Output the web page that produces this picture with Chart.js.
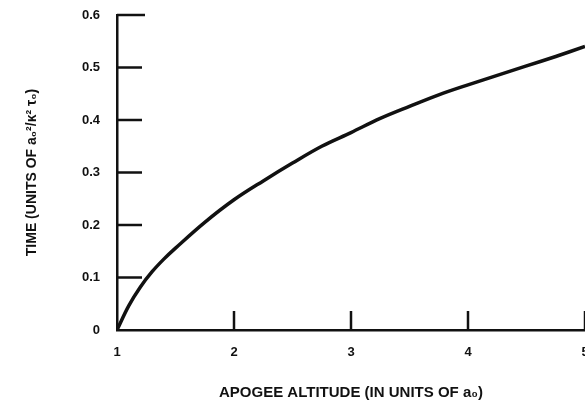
<!DOCTYPE html>
<html>
<head>
<meta charset="utf-8">
<script src="https://cdn.jsdelivr.net/npm/chart.js@4.4.0/dist/chart.umd.min.js"></script>
<style>
html,body{margin:0;padding:0;background:#fff;}
#wrap{width:585px;height:413px;position:relative;}
</style>
</head>
<body>
<div id="wrap"><canvas id="c" width="585" height="413"></canvas></div>
<script>
// Apogee altitude (units of a0)
const apogeeAltitude = [1.0, 1.1, 1.2, 1.3, 1.4, 1.5, 1.75, 2.0, 2.25, 2.5, 2.75, 3.0, 3.25, 3.5, 3.75, 4.0, 4.25, 4.5, 4.75, 5.0];
// Time (units of a0^2/k^2 tau0)
const timeValues = [0, 0.046, 0.082, 0.111, 0.135, 0.156, 0.205, 0.248, 0.284, 0.318, 0.350, 0.376, 0.403, 0.426, 0.448, 0.467, 0.485, 0.503, 0.521, 0.540];
const xTickValues = [1, 2, 3, 4, 5];
const yTickValues = [0, 0.1, 0.2, 0.3, 0.4, 0.5, 0.6];

const points = apogeeAltitude.map((x, i) => ({x: x, y: timeValues[i]}));

const ink = '#111';
const fontFam = '"Liberation Sans", Arial, Helvetica, sans-serif';

const innerTicks = {
  id: 'innerTicks',
  afterDatasetsDraw(chart) {
    const ctx = chart.ctx;
    const xs = chart.scales.x, ys = chart.scales.y;
    const area = chart.chartArea;
    ctx.save();
    ctx.strokeStyle = ink;
    ctx.lineWidth = 2.5;
    ctx.lineCap = 'butt';
    yTickValues.forEach(v => {
      if (v === 0) return;
      const py = ys.getPixelForValue(v);
      ctx.beginPath();
      ctx.moveTo(area.left, py);
      ctx.lineTo(area.left + (v === 0.6 ? 28 : 25), py);
      ctx.stroke();
    });
    xTickValues.forEach(v => {
      if (v === 1) return;
      const px = xs.getPixelForValue(v);
      ctx.beginPath();
      ctx.moveTo(px, area.bottom);
      ctx.lineTo(px, area.bottom - 19);
      ctx.stroke();
    });
    ctx.restore();
  }
};

new Chart(document.getElementById('c'), {
  type: 'scatter',
  data: {
    datasets: [{
      data: points,
      showLine: true,
      borderColor: ink,
      borderWidth: 3.5,
      pointRadius: 0,
      tension: 0.35,
      fill: false
    }]
  },
  options: {
    responsive: false,
    animation: false,
    devicePixelRatio: 1,
    layout: { padding: { top: 15, right: 0, left: 0, bottom: 0 } },
    plugins: { legend: { display: false }, tooltip: { enabled: false } },
    scales: {
      x: {
        type: 'linear',
        min: 1, max: 5,
        afterBuildTicks: s => { s.ticks = xTickValues.map(v => ({value: v})); },
        afterFit: s => { s.height = 83; s.paddingLeft = 0; s.paddingRight = 0; },
        grid: { display: true, drawOnChartArea: false, drawTicks: false },
        border: { display: true, color: ink, width: 2.5 },
        ticks: {
          color: ink, padding: 15, maxRotation: 0, autoSkip: false,
          font: { family: fontFam, size: 13, weight: 'bold' },
          callback: v => String(v)
        },
        title: {
          display: true,
          text: 'APOGEE ALTITUDE (IN UNITS OF a\u2080)',
          color: ink,
          font: { family: fontFam, size: 15, weight: 'bold' },
          padding: { top: 3, bottom: 11 }
        }
      },
      y: {
        type: 'linear',
        min: 0, max: 0.6,
        afterBuildTicks: s => { s.ticks = yTickValues.map(v => ({value: v})); },
        afterFit: s => { s.width = 117; s.paddingTop = 0; s.paddingBottom = 0; },
        grid: { display: true, drawOnChartArea: false, drawTicks: false },
        border: { display: true, color: ink, width: 2.5 },
        ticks: {
          color: ink, padding: 17, autoSkip: false,
          font: { family: fontFam, size: 13, weight: 'bold' },
          callback: v => (v === 0 ? '0' : v.toFixed(1))
        },
        title: {
          display: true,
          text: 'TIME (UNITS OF a\u2080\u00B2/\u03BA\u00B2 \u03C4\u2080)',
          color: ink,
          font: { family: fontFam, size: 14, weight: 'bold' },
          padding: { top: 24, bottom: 0 }
        }
      }
    }
  },
  plugins: [innerTicks]
});
</script>
</body>
</html>
